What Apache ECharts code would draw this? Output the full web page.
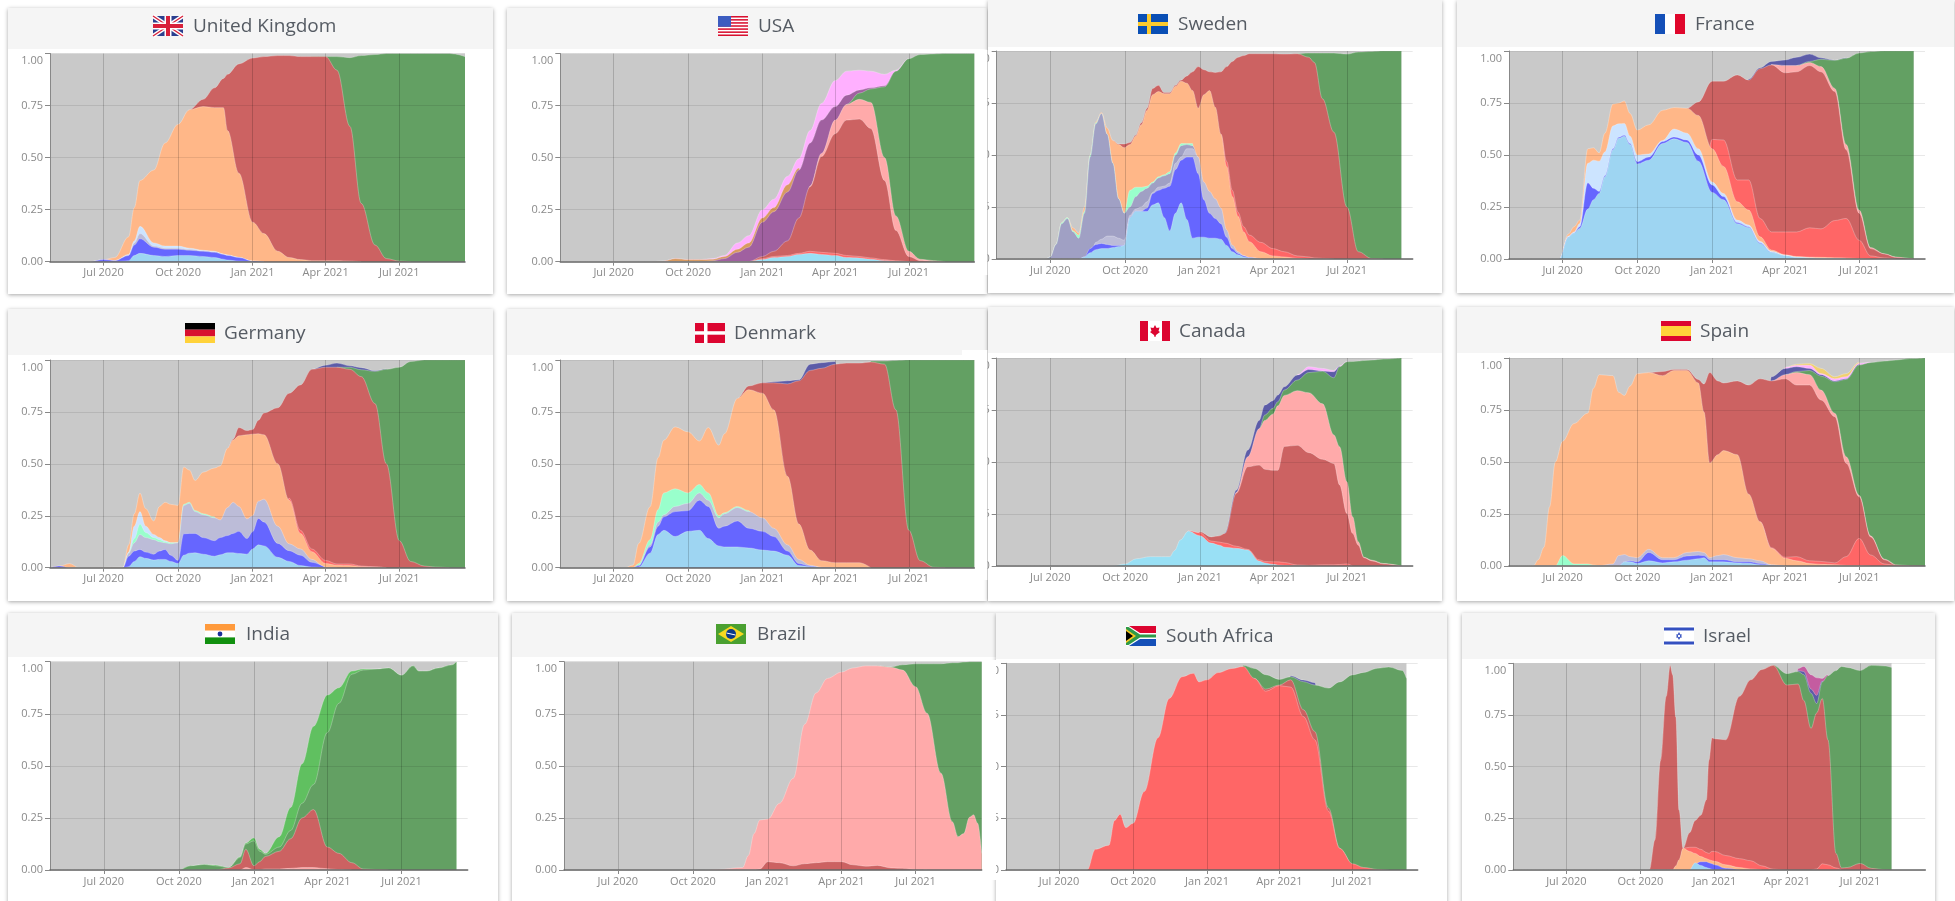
<!DOCTYPE html>
<html><head><meta charset="utf-8"><title>Variant shares by country</title>
<style>html,body{margin:0;padding:0;background:#fff}#c{width:1955px;height:901px}</style>
<script src="https://cdn.jsdelivr.net/npm/echarts@6/dist/echarts.min.js"></script></head>
<body><div id="c"></div><script>
const zeros=n=>Array(n).fill(0);
const tickDates=['2020-07-01','2020-10-01','2021-01-01','2021-04-01','2021-07-01'];
const tickLabels=['Jul 2020','Oct 2020','Jan 2021','Apr 2021','Jul 2021'];
// Each array is the upper edge of one band (cumulative share).
const ukDates=['2020-04-26','2020-06-01','2020-06-15','2020-07-01','2020-07-15','2020-08-01','2020-08-08','2020-08-15','2020-09-01','2020-09-15','2020-10-01','2020-10-15','2020-11-01','2020-11-15','2020-11-26','2020-12-01','2020-12-15','2021-01-01','2021-01-15','2021-02-01','2021-02-15','2021-03-01','2021-03-15','2021-04-01','2021-04-15','2021-05-01','2021-05-15','2021-06-01','2021-06-15','2021-07-01','2021-07-15','2021-08-01','2021-08-15','2021-09-01','2021-09-06','2021-09-20'];
const ukLb=[0,0,0,0,0,.005,.03,.04,.03,.025,.03,.03,.025,.02,.012,.008,.003,0];
const ukBlue=[0,0,0,.01,.005,.03,.08,.11,.07,.06,.06,.055,.05,.045,.035,.03,.02,.003,0];
const ukLav=[0,0,0,.01,.005,.03,.09,.135,.075,.065,.065,.06,.052,.047,.036,.03,.02,.003,0];
const ukPale=[0,0,0,.01,.005,.035,.1,.17,.09,.075,.075,.065,.055,.05,.037,.033,.021,.003,0];
const ukOrange=[0,0,0,.01,.02,.12,.26,.39,.44,.57,.66,.73,.745,.74,.74,.63,.425,.19,.135,.05,.02,.01,.005,.005,.005,.003,0];
const ukBrick=[...zeros(11),.73,.78,.835,.88,.9,.95,.978,.985,.99,.99,.985,.985,.985,.92,.65,.28,.08,.015,.003,0];
const ukGreen=[...zeros(22),.985,.985,.985,.98,.99,.995,1,1,1,1,1,1,.998,.985];

const gridDates=['2020-04-26','2020-06-01','2020-06-15','2020-07-01','2020-07-15','2020-08-01','2020-08-15','2020-09-01','2020-09-15','2020-10-01','2020-10-15','2020-11-01','2020-11-15','2020-12-01','2020-12-15','2021-01-01','2021-01-15','2021-02-01','2021-02-15','2021-03-01','2021-03-15','2021-04-01','2021-04-15','2021-05-01','2021-05-15','2021-06-01','2021-06-15','2021-07-01','2021-07-15','2021-08-01','2021-08-15','2021-09-01','2021-09-06','2021-09-20'];
const usCyan=[...zeros(15),.01,.02,.025,.035,.04,.035,.03,.02,.018,.012,.005,.002,0];
const usRed=[...zeros(15),.015,.025,.03,.04,.05,.045,.04,.03,.025,.018,.01,.004,0];
const usBrick=[...zeros(15),.025,.05,.1,.21,.36,.505,.615,.68,.685,.64,.39,.15,.025,.005,0];
const usPink=[...zeros(19),.365,.52,.68,.755,.78,.765,.5,.22,.05,.012,.005,0];
const usGreen=[...zeros(22),.755,.81,.83,.84,.915,.975,.995,.998,1,1,1,1];
const usPurple=[...zeros(11),.005,.015,.045,.07,.19,.24,.335,.44,.57,.68,.745,.8,.825,.835,.845,.915,0];
const usTan=[...zeros(7),.003,.015,.01,.01,.012,.025,.06,.09,.21,.26,.37,.45,0];
const usLightPink=[...zeros(7),.003,.015,.01,.01,.015,.03,.09,.125,.25,.3,.41,.495,.63,.76,.87,.915,.92,.915,.9,.92,.975,0];

const seDates=['2020-04-26','2020-06-25','2020-07-01','2020-07-08','2020-07-15','2020-07-22','2020-07-29','2020-08-05','2020-08-12','2020-08-19','2020-08-26','2020-09-02','2020-09-09','2020-09-16','2020-09-23','2020-09-30','2020-10-07','2020-10-14','2020-10-21','2020-10-28','2020-11-04','2020-11-11','2020-11-18','2020-11-25','2020-12-02','2020-12-09','2020-12-16','2020-12-23','2020-12-30','2021-01-06','2021-01-13','2021-01-20','2021-01-27','2021-02-03','2021-02-10','2021-02-17','2021-02-24','2021-03-03','2021-03-17','2021-04-01','2021-04-15','2021-05-01','2021-05-15','2021-05-22','2021-06-01','2021-06-15','2021-07-01','2021-07-15','2021-08-01','2021-08-15','2021-09-06'];
const seLb=[...zeros(8),.01,.03,.045,.05,.05,.055,.06,.065,.2,.23,.23,.228,.26,.27,.2,.135,.22,.27,.19,.1,.105,.105,.1,.1,.095,.065,.035,.02,.01,.005,0];
const seBlue=[...zeros(8),.01,.05,.07,.075,.07,.065,.065,.065,.2,.23,.23,.245,.315,.33,.34,.35,.43,.475,.49,.49,.41,.285,.22,.195,.17,.105,.05,.027,.015,.007,0];
const seLav=[...zeros(10),.08,.095,.11,.11,.1,.09,.21,.24,.25,.275,.32,.345,.35,.365,.46,.49,.53,.53,.49,.37,.325,.29,.245,.14,.067,.035,.017,.007,0];
const seGreyLav=[0,0,.01,.07,.17,.195,.13,.1,.22,.49,.65,.7,.6,.46,.29,.22,.25,.3,.325,.34,.365,.39,.4,.41,.5,.545,.55,.545,.49,0];
const seMint=[0,0,.01,.07,.175,.2,.135,.115,.23,.5,.655,.7,.6,.46,.29,.22,.33,.345,.345,.35,.37,.395,.405,.42,.51,.555,.555,.555,0];
const seOrange=[0,0,.01,.07,.175,.2,.15,.125,.25,.5,.66,.705,.63,.57,.55,.535,.55,.59,.645,.715,.79,.805,.795,.795,.83,.855,.845,.81,.725,.79,.81,.73,.6,.445,.3,.205,.13,.083,.035,.015,.01,.003,0];
const seRed=[...zeros(32),.6,.47,.33,.225,.155,.115,.08,.05,.035,.015,.01,.005,.003,0];
const seBrick=[...zeros(13),.57,.553,.553,.56,.595,.655,.725,.82,.835,.8,.8,.835,.86,.88,.9,.925,.91,.9,.897,.9,.925,.95,.97,.978,.987,.987,.987,.985,.987,.97,.945,.77,.61,.25,.035,.002,0];
const seGreen=[...zeros(41),.987,.99,.99,.99,.99,.985,.995,.998,1,1];

const frDates=['2020-04-26','2020-06-27','2020-07-08','2020-07-15','2020-07-22','2020-08-01','2020-08-08','2020-08-15','2020-08-22','2020-09-01','2020-09-08','2020-09-15','2020-09-22','2020-10-01','2020-10-15','2020-11-01','2020-11-15','2020-12-01','2020-12-15','2021-01-01','2021-01-15','2021-02-01','2021-02-15','2021-03-01','2021-03-15','2021-04-01','2021-04-15','2021-05-01','2021-05-15','2021-06-01','2021-06-15','2021-07-01','2021-07-15','2021-08-01','2021-08-15','2021-09-01','2021-09-06'];
const frLb=[0,0,.105,.125,.147,.24,.285,.315,.395,.525,.58,.59,.55,.457,.475,.555,.578,.56,.47,.32,.285,.17,.152,.075,.032,.016,.008,.005,.003,.002,0];
const frBlue=[0,0,.105,.125,.155,.367,.34,.325,.4,.53,.585,.595,.555,.468,.49,.565,.587,.572,.5,.356,.3,.175,.155,.078,.033,.016,0];
const frPale=[0,0,.11,.13,.17,.46,.475,.47,.515,.64,.65,.652,.59,.5,.505,.57,.625,.605,.53,.37,.315,.187,.163,.085,.037,.018,.01,.006,.004,.002,0];
const frOrange=[0,0,.12,.155,.187,.53,.535,.51,.605,.745,.75,.76,.7,.62,.645,.715,.728,.725,.69,.53,.445,.275,.235,.107,.043,.02,.012,.009,.008,.006,.005,.002,0];
const frRed=[...zeros(19),.575,.572,.38,.38,.195,.13,.13,.13,.15,.145,.185,.195,.09,.015,.005,0];
const frBrick=[...zeros(17),.725,.755,.855,.855,.885,.86,.915,.933,.895,.9,.93,.9,.805,.525,.22,.05,.024,.008,.002,0];
const frPink=[...zeros(24),.935,.93,.93,.945,.925,.82,.55,.235,.055,.025,.01,.003,0];
const frGreen=[...zeros(26),.93,.95,.96,.955,.965,.99,.997,1,1,1,1];
const frDark=[...zeros(22),.865,.92,.95,.957,.97,.985,.967,.955,.968,0];

const deDates=['2020-04-26','2020-05-08','2020-05-20','2020-06-01','2020-07-25','2020-08-01','2020-08-08','2020-08-15','2020-08-22','2020-09-01','2020-09-08','2020-09-15','2020-09-22','2020-10-01','2020-10-08','2020-10-15','2020-10-22','2020-11-01','2020-11-15','2020-11-22','2020-12-01','2020-12-08','2020-12-15','2020-12-25','2021-01-01','2021-01-08','2021-01-15','2021-02-01','2021-02-15','2021-03-01','2021-03-15','2021-04-01','2021-04-15','2021-05-01','2021-05-15','2021-06-01','2021-06-15','2021-07-01','2021-07-15','2021-08-01','2021-08-15','2021-09-01','2021-09-20'];
const deLb=[...zeros(5),.005,.03,.053,.045,.037,.04,.04,.03,.02,.06,.07,.072,.065,.055,.062,.072,.072,.068,.065,.09,.11,.105,.05,.03,.01,.003,0];
const deBlue=[0,.008,0,0,0,.055,.08,.088,.075,.065,.08,.088,.06,.035,.163,.165,.165,.145,.13,.145,.155,.165,.175,.14,.173,.237,.22,.117,.082,.06,.026,0];
const deLav=[...zeros(5),.07,.12,.16,.145,.135,.125,.12,.115,.12,.3,.31,.27,.255,.24,.23,.29,.315,.295,.235,.25,.32,.33,.2,.115,.09,.04,.002,0];
const deMint=[...zeros(5),.07,.14,.21,.17,.145,.135,.125,.12,.12,.305,.315,.275,.26,.245,0];
const dePale=[...zeros(5),.075,.2,.27,.2,.16,.145,.13,.12,.12,0];
const deOrange=[0,.008,.02,0,.003,.11,.26,.36,.285,.225,.295,.315,.305,.3,.485,.47,.42,.46,.48,.49,.575,.615,.635,.64,.643,.645,.64,.5,.325,.165,.077,.02,.012,.01,.005,.003,0];
const deRed=[...zeros(28),.335,.18,.09,.035,.018,.018,.008,.004,0];
const deBrick=[...zeros(20),.575,.62,.675,.66,.665,.71,.745,.77,.84,.88,.955,.965,.965,.955,.92,.79,.5,.13,.03,.008,.003,0];
const deGreen=[...zeros(32),.965,.965,.953,.945,.955,.965,.993,1,1,1,1];
const deDark=[...zeros(30),.955,.975,.985,.972,.963,.948,.957,0];

const dkDates=['2020-04-26','2020-07-15','2020-07-25','2020-08-01','2020-08-15','2020-08-25','2020-09-01','2020-09-15','2020-10-01','2020-10-15','2020-10-26','2020-11-08','2020-11-15','2020-12-01','2020-12-15','2021-01-01','2021-01-15','2021-02-01','2021-02-15','2021-03-01','2021-03-15','2021-04-01','2021-04-15','2021-05-01','2021-05-15','2021-06-01','2021-06-15','2021-07-01','2021-07-15','2021-08-01','2021-08-15','2021-09-01','2021-09-20'];
const dkLb=[0,0,0,.003,.07,.16,.18,.15,.175,.18,.14,.105,.1,.1,.095,.085,.08,.06,.01,.005,0];
const dkBlue=[0,0,0,.01,.1,.2,.245,.27,.275,.325,.295,.19,.2,.225,.19,.175,.15,.08,.02,.008,.001,0];
const dkLav=[0,0,0,.01,.11,.22,.255,.295,.31,.36,.325,.24,.26,.29,.27,.24,.19,.11,.04,.012,.002,0];
const dkMint=[0,0,0,.02,.135,.28,.36,.38,.36,.4,.36,.25,.265,.295,.275,0];
const dkOrange=[0,0,.013,.117,.293,.53,.614,.678,.654,.61,.675,.59,.645,.815,.857,.84,.76,.44,.21,.085,.034,.024,.024,.024,0];
const dkBrick=[...zeros(13),.815,.875,.89,.89,.885,.9,.95,.96,.98,.985,.985,.99,.98,.76,.18,.034,.002,0];
const dkGreen=[...zeros(24),.995,.995,.998,1,1,1,1,1,1];
const dkDark=[...zeros(15),.89,.895,.9,.905,.98,.987,.993,0];

const caDates=['2020-04-26','2020-09-15','2020-10-01','2020-10-15','2020-11-01','2020-11-15','2020-11-25','2020-12-01','2020-12-08','2020-12-18','2021-01-01','2021-01-15','2021-01-25','2021-02-01','2021-02-15','2021-03-01','2021-03-15','2021-03-22','2021-04-01','2021-04-07','2021-04-15','2021-05-01','2021-05-15','2021-06-01','2021-06-15','2021-06-22','2021-07-01','2021-07-08','2021-07-15','2021-07-22','2021-08-01','2021-08-15','2021-09-06'];
const caLb=[0,0,.01,.035,.045,.045,.045,.075,.125,.168,.145,.11,.1,.09,.085,.077,.024,.015,.008,.005,.003,.001,0];
const caRed=[...zeros(9),.17,.16,.12,.115,.11,.095,.08,.03,.022,.02,.02,.017,.005,.003,.006,.006,.007,.01,0];
const caBrick=[...zeros(10),.165,.14,.145,.157,.35,.477,.485,.465,.46,.46,.575,.58,.545,.513,.493,.39,.253,.157,.1,.04,.024,.01,0];
const caPink=[...zeros(14),.355,.525,.66,.7,.73,.77,.82,.843,.833,.78,.63,.573,.405,.237,.117,.042,.028,.012,0];
const caGreen=[...zeros(16),.66,.726,.758,.79,.846,.894,.93,.936,.905,.958,.982,.983,.985,.988,.99,.995,1];
const caDark=[...zeros(13),.16,.365,.558,.7,.774,.795,.822,.862,.918,.945,.938,.934,.96,0];
const caLightPink=[...zeros(21),.92,.958,.95,.94,.962,.983,0];

const esDates=['2020-04-26','2020-05-26','2020-06-01','2020-06-08','2020-06-15','2020-06-22','2020-07-01','2020-07-15','2020-08-01','2020-08-08','2020-08-15','2020-09-01','2020-09-08','2020-09-15','2020-09-22','2020-10-01','2020-10-15','2020-11-01','2020-11-15','2020-12-01','2020-12-15','2020-12-22','2020-12-29','2021-01-08','2021-01-15','2021-02-01','2021-02-15','2021-03-01','2021-03-15','2021-04-01','2021-04-15','2021-05-01','2021-05-15','2021-06-01','2021-06-15','2021-07-01','2021-07-15','2021-08-01','2021-08-15','2021-09-01','2021-09-20'];
const esLb=[...zeros(13),.02,.02,.012,.025,.015,.02,.028,.035,.04,.02,.02,.02,.015,.013,.006,.003,0];
const esBlue=[...zeros(13),.02,.025,.02,.065,.03,.03,.048,.052,.05,.03,.03,.03,.02,.02,.012,.004,0];
const esLav=[...zeros(10),.002,.01,.05,.055,.045,.04,.08,.04,.04,.065,.07,.065,.04,.05,.055,.04,.035,.025,.006,0];
const esMint=[...zeros(6),.05,.01,.01,.005,0];
const esOrange=[0,0,.03,.09,.285,.5,.6,.685,.735,.855,.92,.915,.835,.82,.865,.925,.93,.915,.94,.94,.88,.74,.495,.535,.555,.535,.345,.213,.085,.037,.025,.012,.008,.006,.003,.002,0];
const esRed=[...zeros(27),.213,.088,.042,.045,.025,.022,.015,.045,.133,.053,.01,.003,0];
const esBrick=[...zeros(16),.93,.935,.945,.945,.897,.875,.93,.89,.88,.89,.87,.9,.89,.9,.87,.87,.798,.718,.494,.333,.14,.03,.006,.002,0];
const esPink=[...zeros(28),.89,.92,.93,.92,.846,.734,.525,.34,.145,.033,0];
const esGreen=[...zeros(29),.92,.935,.94,.913,.886,.897,.966,.978,.985,.99,.997,1];
const esDark=[...zeros(28),.91,.95,.958,.95,.92,.89,.9,.97,0];
const esLightPink=[...zeros(29),.955,.965,.965,.925,.9,.91,.975,.98,0];
const esYellow=[...zeros(29),.955,.97,.973,.95,.91,.925,.98,0];

const inDates=['2020-04-26','2020-10-01','2020-10-15','2020-11-01','2020-11-15','2020-12-01','2020-12-15','2020-12-22','2021-01-01','2021-01-08','2021-01-15','2021-02-01','2021-02-15','2021-03-01','2021-03-15','2021-04-01','2021-04-15','2021-05-01','2021-05-15','2021-06-01','2021-06-15','2021-07-01','2021-07-15','2021-07-22','2021-08-01','2021-08-15','2021-09-01','2021-09-06'];
const inPink=[...zeros(7),.012,.002,.002,.005,.005,.008,.012,.012,.006,.002,0];
const inBrick=[...zeros(5),.01,.03,.1,.02,.04,.065,.09,.15,.25,.29,.11,.08,.035,.005,.002,0];
const inGreen=[0,0,.02,.027,.02,.012,.06,.125,.14,.09,.075,.11,.19,.32,.41,.66,.8,.94,.96,.965,.97,.935,.98,.955,.955,.97,.985,1];
const inMid=[0,0,.02,.027,.024,.012,.064,.13,.155,.1,.08,.16,.3,.51,.69,.84,.875,.955,.965,.965,.97,.935,.98,.955,.955,.97,.985,1];

const brDates=['2020-04-26','2020-10-15','2020-11-01','2020-12-01','2020-12-08','2020-12-15','2020-12-22','2021-01-01','2021-01-15','2021-02-01','2021-02-15','2021-03-01','2021-03-15','2021-04-01','2021-04-15','2021-05-01','2021-05-15','2021-06-01','2021-06-15','2021-07-01','2021-07-15','2021-08-01','2021-08-15','2021-08-22','2021-08-29','2021-09-05','2021-09-10','2021-09-15','2021-09-20'];
const brBrick=[...zeros(6),.005,.04,.035,.02,.03,.035,.04,.04,.025,.018,.022,.01,.008,.001,0];
const brPink=[0,0,.003,.012,.07,.175,.24,.245,.32,.44,.7,.85,.92,.95,.97,.98,.98,.973,.96,.88,.753,.465,.232,.16,.175,.253,.265,.224,.08];
const brGreen=[...zeros(16),.98,.975,.985,.99,.99,.99,.995,.995,.998,1,1,1,1];

const zaDates=['2020-04-26','2020-08-05','2020-08-15','2020-09-01','2020-09-08','2020-09-15','2020-09-22','2020-10-01','2020-10-15','2020-11-01','2020-11-15','2020-12-01','2020-12-15','2020-12-22','2021-01-01','2021-01-15','2021-02-01','2021-02-15','2021-03-01','2021-03-15','2021-04-01','2021-04-15','2021-05-01','2021-05-15','2021-06-01','2021-06-15','2021-07-01','2021-07-15','2021-08-01','2021-08-15','2021-09-01','2021-09-06'];
const zaRed=[0,0,.1,.12,.24,.27,.205,.226,.38,.64,.83,.935,.952,.91,.92,.955,.975,.985,.927,.865,.892,.885,.742,.63,.285,.105,.03,.012,.003,0];
const zaBrick=[...zeros(18),.927,.875,.895,.92,.775,.67,.3,.105,0];
const zaGreen=[...zeros(17),.99,.975,.945,.922,.935,.911,.895,.88,.91,.944,.956,.976,.982,.965,.927];
const zaDark=[...zeros(21),.94,.919,.906,0];

const ilDates=['2020-04-26','2020-10-12','2020-10-19','2020-10-26','2020-11-02','2020-11-07','2020-11-10','2020-11-14','2020-11-18','2020-11-23','2020-12-01','2020-12-08','2020-12-15','2020-12-22','2020-12-25','2020-12-29','2021-01-01','2021-01-15','2021-02-01','2021-02-15','2021-03-01','2021-03-15','2021-04-01','2021-04-15','2021-04-22','2021-05-01','2021-05-08','2021-05-15','2021-05-22','2021-06-01','2021-06-08','2021-06-15','2021-07-01','2021-07-15','2021-08-01','2021-08-09'];
const ilLb=[...zeros(11),.035,.022,.012,.008,.003,.001,0];
const ilBlue=[...zeros(11),.03,.04,.04,.035,.03,.025,.008,0];
const ilOrange=[...zeros(7),.02,.05,.105,.09,.08,.065,.055,.05,.045,.042,.025,.012,.005,0];
const ilRed=[...zeros(9),.105,.11,.11,.1,.085,.08,.09,.09,.07,.055,.045,.02,.004,0,0,0,0,.005,.03,.025,.01,0];
const ilBrick=[0,0,.145,.53,.84,.99,.945,.74,.29,.105,.18,.24,.265,.34,.53,.64,.635,.63,.84,.92,.97,.99,.895,.9,.82,.685,.76,.83,.63,.08,.01,.012,.032,.008,.001,0];
const ilGreen=[...zeros(21),.99,.95,.96,.945,.855,.805,.91,.94,.965,.985,.98,.965,.99,.987,.98];
const ilDark=[...zeros(23),.965,.96,.875,.845,.915,0];
const ilMagenta=[...zeros(23),.975,.985,.945,.93,.927,.945,0];

const C={grey:'#c9c9c9',green:'#63a063',mid:'#60c060',brick:'#cc6262',orange:'#ffb788',red:'#ff6666',pink:'#ffaaaa',lb:'#9ed5f2',cyan:'#99e0f5',blue:'#6666ff',lav:'#bcbcd8',greyLav:'#a0a0c4',mint:'#99ffcc',pale:'#cce4ff',dark:'#5c5ca8',purple:'#a060a0',lightPink:'#ffb0ff',tan:'#d89a60',yellow:'#f0d070',magenta:'#c45ca0'};

// Bands are listed back to front; each band's area runs from zero to its upper edge.
// Panels with under:true sit beneath their left neighbour, which hides most of their y labels.
const panels=[
{name:'United Kingdom',flag:'uk',card:[8,8,485,286],head:41,grid:[50,53.5,415,208.2],flagX:153,titleX:193,titleY:26,dates:ukDates,bands:[[C.green,ukGreen],[C.brick,ukBrick],[C.orange,ukOrange],[C.pale,ukPale],[C.lav,ukLav],[C.blue,ukBlue],[C.lb,ukLb]]},
{name:'USA',flag:'us',card:[507,8,480,286],head:41,grid:[560.3,53.5,414,208.2],flagX:718,titleX:758,titleY:26,dates:gridDates,bands:[[C.lightPink,usLightPink],[C.tan,usTan],[C.purple,usPurple],[C.green,usGreen],[C.pink,usPink],[C.brick,usBrick],[C.red,usRed],[C.cyan,usCyan]]},
{name:'Sweden',under:true,flag:'se',card:[988,0,454,293],head:47,grid:[996.7,51,416,208],flagX:1138,titleX:1178,titleY:24,dates:seDates,bands:[[C.green,seGreen],[C.brick,seBrick],[C.red,seRed],[C.orange,seOrange],[C.mint,seMint],[C.greyLav,seGreyLav],[C.lav,seLav],[C.blue,seBlue],[C.lb,seLb]]},
{name:'France',flag:'fr',card:[1457,0,497,293],head:47,grid:[1509,51,416,208],flagX:1655,titleX:1695,titleY:24,dates:frDates,bands:[[C.dark,frDark],[C.green,frGreen],[C.pink,frPink],[C.brick,frBrick],[C.red,frRed],[C.orange,frOrange],[C.pale,frPale],[C.blue,frBlue],[C.lb,frLb]]},
{name:'Germany',flag:'de',card:[8,309,485,292],head:46,grid:[50,360,415,207.7],flagX:185,titleX:224,titleY:333,dates:deDates,bands:[[C.dark,deDark],[C.green,deGreen],[C.brick,deBrick],[C.red,deRed],[C.orange,deOrange],[C.pale,dePale],[C.mint,deMint],[C.lav,deLav],[C.blue,deBlue],[C.lb,deLb]]},
{name:'Denmark',flag:'dk',card:[507,309,480,292],head:46,grid:[560.3,360,414,207.7],flagX:695,titleX:734,titleY:333,dates:dkDates,bands:[[C.dark,dkDark],[C.green,dkGreen],[C.brick,dkBrick],[C.orange,dkOrange],[C.mint,dkMint],[C.lav,dkLav],[C.blue,dkBlue],[C.lb,dkLb]]},
{name:'Canada',under:true,flag:'ca',card:[988,307,454,294],head:46,grid:[996.7,358,416,208],flagX:1140,titleX:1179,titleY:331,dates:caDates,bands:[[C.lightPink,caLightPink],[C.dark,caDark],[C.green,caGreen],[C.pink,caPink],[C.brick,caBrick],[C.red,caRed],[C.cyan,caLb]]},
{name:'Spain',flag:'es',card:[1457,307,497,294],head:46,grid:[1509,358,416,208],flagX:1661,titleX:1700,titleY:331,dates:esDates,bands:[[C.yellow,esYellow],[C.lightPink,esLightPink],[C.dark,esDark],[C.green,esGreen],[C.pink,esPink],[C.brick,esBrick],[C.red,esRed],[C.orange,esOrange],[C.mint,esMint],[C.lav,esLav],[C.blue,esBlue],[C.lb,esLb]]},
{name:'India',flag:'in',card:[8,613,490,300],head:44,grid:[50,661.7,417.7,208.3],flagX:205,titleX:246,titleY:634,dates:inDates,bands:[[C.mid,inMid],[C.green,inGreen],[C.brick,inBrick],[C.pink,inPink]]},
{name:'Brazil',flag:'br',card:[512,613,484,300],head:44,grid:[564,661.7,417.7,208.3],flagX:716,titleX:757,titleY:634,dates:brDates,bands:[[C.green,brGreen],[C.pink,brPink],[C.brick,brBrick]]},
{name:'South Africa',under:true,flag:'za',card:[996,613,451,300],head:46,grid:[1006,663.3,411.7,206.7],flagX:1126,titleX:1166,titleY:636,dates:zaDates,bands:[[C.dark,zaDark],[C.green,zaGreen],[C.brick,zaBrick],[C.red,zaRed]]},
{name:'Israel',flag:'il',card:[1462,613,473,300],head:46,grid:[1513.3,663.3,412,206.7],flagX:1664,titleX:1703,titleY:636,dates:ilDates,bands:[[C.magenta,ilMagenta],[C.dark,ilDark],[C.green,ilGreen],[C.brick,ilBrick],[C.red,ilRed],[C.orange,ilOrange],[C.blue,ilBlue],[C.lb,ilLb]]}
];
const ts=d=>new Date(d+'T00:00:00').getTime();
const axisMin=ts('2020-04-26'),axisMax=ts('2021-09-20');
const tickTs=tickDates.map(ts);

const rect=(x,y,w,h,fill,z=1,extra={})=>({type:'rect',silent:true,z,shape:{x,y,width:w,height:h},style:{fill,...extra}});
const poly=(pts,fill,z=1)=>({type:'polygon',silent:true,z,shape:{points:pts},style:{fill}});
const line=(x1,y1,x2,y2,stroke,w,z=1)=>({type:'line',silent:true,z,shape:{x1,y1,x2,y2},style:{stroke,lineWidth:w}});
const circle=(cx,cy,r,fill,z=1)=>({type:'circle',silent:true,z,shape:{cx,cy,r},style:{fill}});
function flag(kind,x,y){
 const w=30,h=20;
 switch(kind){
 case 'uk':return[rect(x,y,w,h,'#2b3f8f'),line(x,y,x+w,y+h,'#fff',4),line(x+w,y,x,y+h,'#fff',4),line(x,y,x+w,y+h,'#d8203a',1.4),line(x+w,y,x,y+h,'#d8203a',1.4),rect(x+11.5,y,7,h,'#fff'),rect(x,y+6.5,w,7,'#fff'),rect(x+13,y,4,h,'#d8203a'),rect(x,y+8,w,4,'#d8203a')];
 case 'us':{const a=[rect(x,y,w,h,'#fff')];for(let i=0;i<7;i++)a.push(rect(x,y+i*3.08,w,1.54,'#d8102f'));a.push(rect(x,y,13,10.8,'#3c5cc0'));return a;}
 case 'se':return[rect(x,y,w,h,'#0a4fb5'),rect(x+9,y,4,h,'#fdcb2e'),rect(x,y+8,w,4,'#fdcb2e')];
 case 'fr':return[rect(x,y,w,h,'#fff'),rect(x,y,10,h,'#1550b8'),rect(x+20,y,10,h,'#e0072c')];
 case 'de':return[rect(x,y,w,6.7,'#000'),rect(x,y+6.7,w,6.7,'#d8102f'),rect(x,y+13.4,w,6.6,'#ffd23a')];
 case 'dk':return[rect(x,y,w,h,'#dc0530'),rect(x+9,y,3.5,h,'#fff'),rect(x,y+8.2,w,3.5,'#fff')];
 case 'ca':return[rect(x,y,w,h,'#fff'),rect(x,y,8,h,'#dc0530'),rect(x+22,y,8,h,'#dc0530'),poly([[x+15,y+4],[x+16.6,y+7],[x+19.5,y+6.5],[x+18.5,y+10],[x+20,y+11],[x+16,y+14],[x+15.4,y+16],[x+14.6,y+16],[x+14,y+14],[x+10,y+11],[x+11.5,y+10],[x+10.5,y+6.5],[x+13.4,y+7]],'#dc0530')];
 case 'es':return[rect(x,y,w,h,'#dc0530'),rect(x,y+5,w,10,'#ffd23a')];
 case 'in':return[rect(x,y,w,6.7,'#ff9a3c'),rect(x,y+6.7,w,6.7,'#fff'),rect(x,y+13.4,w,6.6,'#11900f'),circle(x+15,y+10,2.4,'#1a2f9a')];
 case 'br':return[rect(x,y,w,h,'#4aa030'),poly([[x+15,y+2],[x+28,y+10],[x+15,y+18],[x+2,y+10]],'#f6d820'),circle(x+15,y+10,5,'#0c3a8a'),line(x+10.5,y+9,x+19.5,y+11,'#fff',1)];
 case 'za':return[rect(x,y,w,10,'#dc0530'),rect(x,y+10,w,10,'#1550b8'),poly([[x,y-0.5],[x+3,y],[x+14,y+7],[x+30,y+7],[x+30,y+13],[x+14,y+13],[x+3,y+20],[x,y+20]],'#fff'),poly([[x,y+1],[x+2.5,y+1],[x+14,y+8.5],[x+30,y+8.5],[x+30,y+11.5],[x+14,y+11.5],[x+2.5,y+19],[x,y+19]],'#2f9a48'),poly([[x,y+3],[x+10,y+10],[x,y+17]],'#f6c820'),poly([[x,y+5],[x+7,y+10],[x,y+15]],'#000')];
 case 'il':return[rect(x,y,w,h,'#fff'),rect(x,y+1.5,w,3,'#3450c0'),rect(x,y+15.5,w,3,'#3450c0'),poly([[x+15,y+6],[x+18,y+11.5],[x+12,y+11.5]],'#3450c0'),poly([[x+15,y+14],[x+18,y+8.5],[x+12,y+8.5]],'#3450c0'),circle(x+15,y+10,1.2,'#fff')];
 }
 return [];
}

const axisFont='"Open Sans","Noto Sans",sans-serif';
const grid=[],xAxis=[],yAxis=[],series=[],title=[],els=[];
panels.forEach((p,i)=>{
 const base=p.under?0:100;
 const [cx,cy,cw,ch]=p.card;
 els.push(rect(cx,cy,cw,ch,'#fff',0,{shadowBlur:4,shadowOffsetY:1,shadowColor:'rgba(0,0,0,.35)'}));
 els.push(rect(cx,cy,cw,p.head,'#f5f5f5',0));
 els.push(...flag(p.flag,p.flagX,p.titleY-10));
 title.push({text:p.name,left:p.titleX,top:p.titleY-11,padding:0,textStyle:{fontFamily:axisFont,fontSize:19,fontWeight:400,color:'#555b63',lineHeight:24}});
 const [l,t,w,h]=p.grid;
 grid.push({left:l,top:t,width:w,height:h,containLabel:false,show:false});
 xAxis.push({type:'value',gridIndex:i,min:axisMin,max:axisMax,z:base+50,
  axisLine:{onZero:false,lineStyle:{color:'#666',width:1.5}},
  axisTick:{customValues:tickTs,length:4,lineStyle:{color:'#888'}},
  splitLine:{show:true,customValues:tickTs,lineStyle:{color:'rgba(0,0,0,.17)',width:1}},
  axisLabel:{customValues:tickTs,margin:6,fontFamily:axisFont,fontSize:11,color:'#8a8a8a',hideOverlap:false,
   formatter:v=>tickLabels[tickTs.indexOf(+v)]||''}});
 yAxis.push({type:'value',gridIndex:i,min:0,max:1,interval:.25,z:base+50,
  axisLine:{show:true,onZero:false,lineStyle:{color:'#888',width:1}},
  axisTick:{show:true,length:5,lineStyle:{color:'#888'}},
  splitLine:{show:true,lineStyle:{color:'rgba(0,0,0,.09)',width:1}},
  axisLabel:{margin:7,fontFamily:axisFont,fontSize:11,lineHeight:15,color:'#8a8a8a',verticalAlignMaxLabel:'top',
   formatter:v=>v.toFixed(2)}});
 const bandSeries=(color,vals,key)=>({type:'line',name:p.name+' '+key,z:base+3+(key==='other'?0:key+1),xAxisIndex:i,yAxisIndex:i,showSymbol:false,silent:true,animation:false,
  smooth:.35,smoothMonotone:'x',data:vals.map((v,k)=>[ts(p.dates[k]),v]),
  lineStyle:{width:.7,color:'rgba(255,255,255,.4)'},areaStyle:{color,opacity:1}});
 series.push(bandSeries(C.grey,p.dates.map(()=>1),'other'));
 p.bands.forEach((b,k)=>series.push(bandSeries(b[0],b[1],k)));
});
// White strips between the covered panels' y labels and the card that overlaps them (above the labels, below the neighbouring plot).
els.push(rect(962,50,25.3,225,'#fff',60),rect(962,350,25.3,230,'#fff',60),rect(972,660,24,220,'#fff',60));

const chart=echarts.init(document.getElementById('c'));
chart.setOption({animation:false,backgroundColor:'#fff',title,grid,xAxis,yAxis,series,graphic:{elements:els}});
</script></body></html>
